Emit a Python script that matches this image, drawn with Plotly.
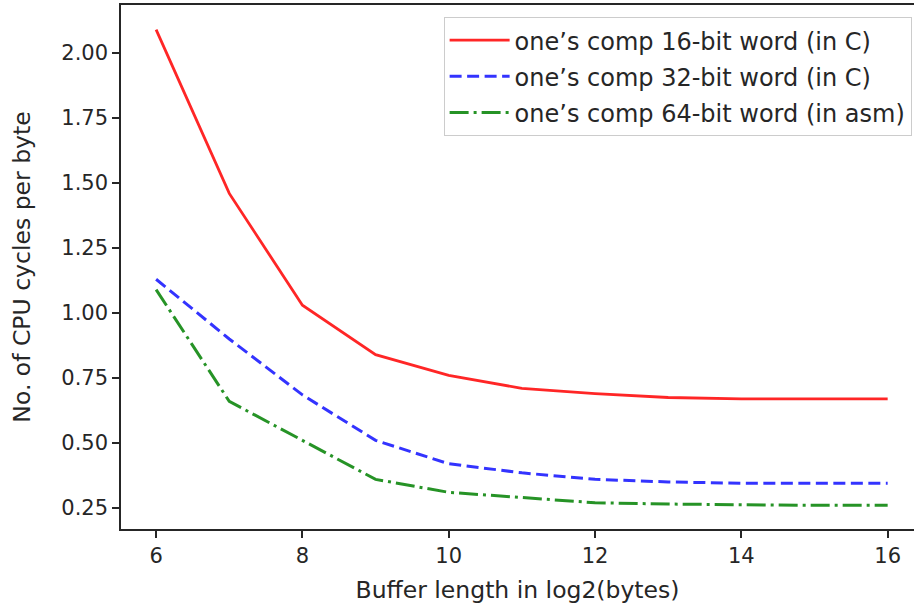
import plotly.graph_objects as go

buffer_log2 = [6, 7, 8, 9, 10, 11, 12, 13, 14, 15, 16]
comp16_c = [2.09, 1.46, 1.03, 0.84, 0.76, 0.71, 0.69, 0.675, 0.67, 0.67, 0.67]
comp32_c = [1.13, 0.90, 0.685, 0.51, 0.42, 0.385, 0.36, 0.35, 0.345, 0.345, 0.345]
comp64_asm = [1.09, 0.66, 0.51, 0.36, 0.31, 0.29, 0.27, 0.265, 0.262, 0.26, 0.26]

series_names = [
    "one\u2019s comp 16-bit word (in C)",
    "one\u2019s comp 32-bit word (in C)",
    "one\u2019s comp 64-bit word (in asm)",
]
x_ticks = [6, 8, 10, 12, 14, 16]
y_ticks = [0.25, 0.50, 0.75, 1.00, 1.25, 1.50, 1.75, 2.00]

font = "DejaVu Sans"
fig = go.Figure()
fig.add_trace(go.Scatter(x=buffer_log2, y=comp16_c, mode="lines", name=series_names[0],
                         legendgroup="a",
                         line=dict(color="rgba(255,0,0,0.85)", width=2.8)))
fig.add_trace(go.Scatter(x=buffer_log2, y=comp32_c, mode="lines", name=series_names[1],
                         legendgroup="b",
                         line=dict(color="rgba(0,0,255,0.8)", width=3, dash="12px,5.5px")))
fig.add_trace(go.Scatter(x=buffer_log2, y=comp64_asm, mode="lines", name=series_names[2],
                         legendgroup="c",
                         line=dict(color="rgba(0,128,0,0.85)", width=3, dash="19px,5px,3px,5px")))

fig.update_layout(
    width=914, height=604,
    margin=dict(l=121, r=0, t=5, b=75),
    paper_bgcolor="white", plot_bgcolor="white",
    font=dict(family=font, size=21, color="#262626"),
    showlegend=True,
    legend=dict(x=0.997, y=0.977, xanchor="right", yanchor="top",
                bgcolor="rgba(255,255,255,0.8)", bordercolor="#cccccc", borderwidth=1,
                font=dict(family=font, size=24, color="#262626"),
                tracegroupgap=2, itemwidth=60),
)
fig.update_xaxes(
    range=[5.52, 16.36], tickvals=x_ticks, ticktext=[str(v) for v in x_ticks],
    showgrid=False, zeroline=False, showline=True, linecolor="#262626", linewidth=1.5,
    mirror=True, ticks="outside", ticklen=7, tickcolor="#262626", tickwidth=1.5,
    title=dict(text="Buffer length in log2(bytes)", standoff=16, font=dict(size=23.5)),
)
fig.update_yaxes(
    range=[0.169, 2.185], tickvals=y_ticks, ticktext=[f"{v:.2f}" for v in y_ticks],
    showgrid=False, zeroline=False, showline=True, linecolor="#262626", linewidth=1.5,
    ticks="outside", ticklen=7, tickcolor="#262626", tickwidth=1.5,
    title=dict(text="No. of CPU cycles per byte", standoff=24, font=dict(size=23.5)),
)

fig.write_html("out.html", config={"displayModeBar": False},
               post_script="document.body.style.margin='0px';")
